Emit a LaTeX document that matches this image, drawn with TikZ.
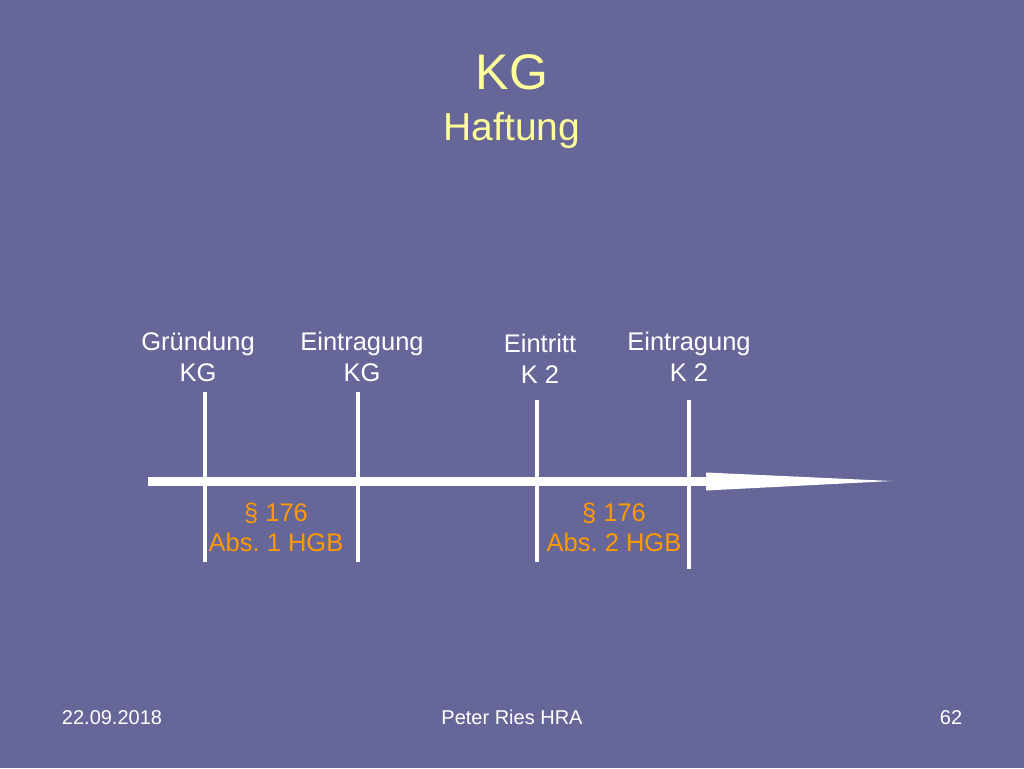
\documentclass[tikz,border=0pt]{standalone}
\usepackage{fontspec}
\setmainfont{Liberation Sans}
\usepackage{xcolor}
\usepackage{tikz}
\usetikzlibrary{positioning, arrows.meta, backgrounds, calc}
\definecolor{slidebg}{RGB}{102,102,153}
\definecolor{titleyellow}{RGB}{255,255,153}
\definecolor{paraorange}{RGB}{255,153,0}
\frenchspacing
\tikzstyle{lbl}=[%
      text=white, font=\fontsize{25.5}{31}\selectfont, align=center, inner sep=0pt
]
\tikzstyle{para}=[%
      text=paraorange, font=\fontsize{25.5}{30}\selectfont, align=center, inner sep=0pt
]
\tikzstyle{foot}=[%
      text=white, font=\fontsize{20}{24}\selectfont, inner sep=0pt, anchor=base
]
\tikzstyle{tick}=[%
      draw=white, line width=4pt
]
\tikzstyle{shaft}=[%
      draw=white, line width=9pt
]

\begin{document}
\begin{tikzpicture}[x=1pt, y=-1pt]
    \fill[slidebg] (0,0) rectangle (1024,768);
    \useasboundingbox (0,0) rectangle (1024,768);

    % title
    \node[text=titleyellow, font=\fontsize{50}{50}\selectfont, anchor=base, inner sep=0pt] (kg) at (512,89) {KG};
    \node[text=titleyellow, font=\fontsize{39}{39}\selectfont, anchor=base, inner sep=0pt] (haft) at (512,140) {Haftung};

    % points in time
    \node[lbl] (gr)  at (198,357)   {Gründung\\KG};
    \node[lbl] (ekg) at (362,357)   {Eintragung\\KG};
    \node[lbl] (ein) at (540,359)   {Eintritt\\K 2};
    \node[lbl] (ek2) at (689,357)   {Eintragung\\K 2};

    \coordinate (t1a) at (205,392); \coordinate (t1b) at (205,562);
    \coordinate (t2a) at (358,392); \coordinate (t2b) at (358,562);
    \coordinate (t3a) at (537,400); \coordinate (t3b) at (537,562);
    \coordinate (t4a) at (689,400); \coordinate (t4b) at (689,569);
    \coordinate (start) at (148,481.5);
    \coordinate (head)  at (706,481.5);
    \coordinate (end)   at (892,481);

    % time line with long arrow head
    \draw[shaft] (start) -- (head);
    \fill[white] ($(head)+(0,-9)$) -- (end) -- ($(head)+(0,9)$) -- cycle;
    \foreach \i in {1,...,4}
        \draw[tick] (t\i a) -- (t\i b);

    % sections
    \node[para] (abs1) at (276,527) {§ 176\\Abs. 1 HGB};
    \node[para] (abs2) at (614,527) {§ 176\\Abs. 2 HGB};

    % footer
    \node[foot] (date) at (112,724) {22.09.2018};
    \node[foot] (auth) at (512,724) {Peter Ries HRA};
    \node[foot] (page) at (951,724) {62};
\end{tikzpicture}
\end{document}
